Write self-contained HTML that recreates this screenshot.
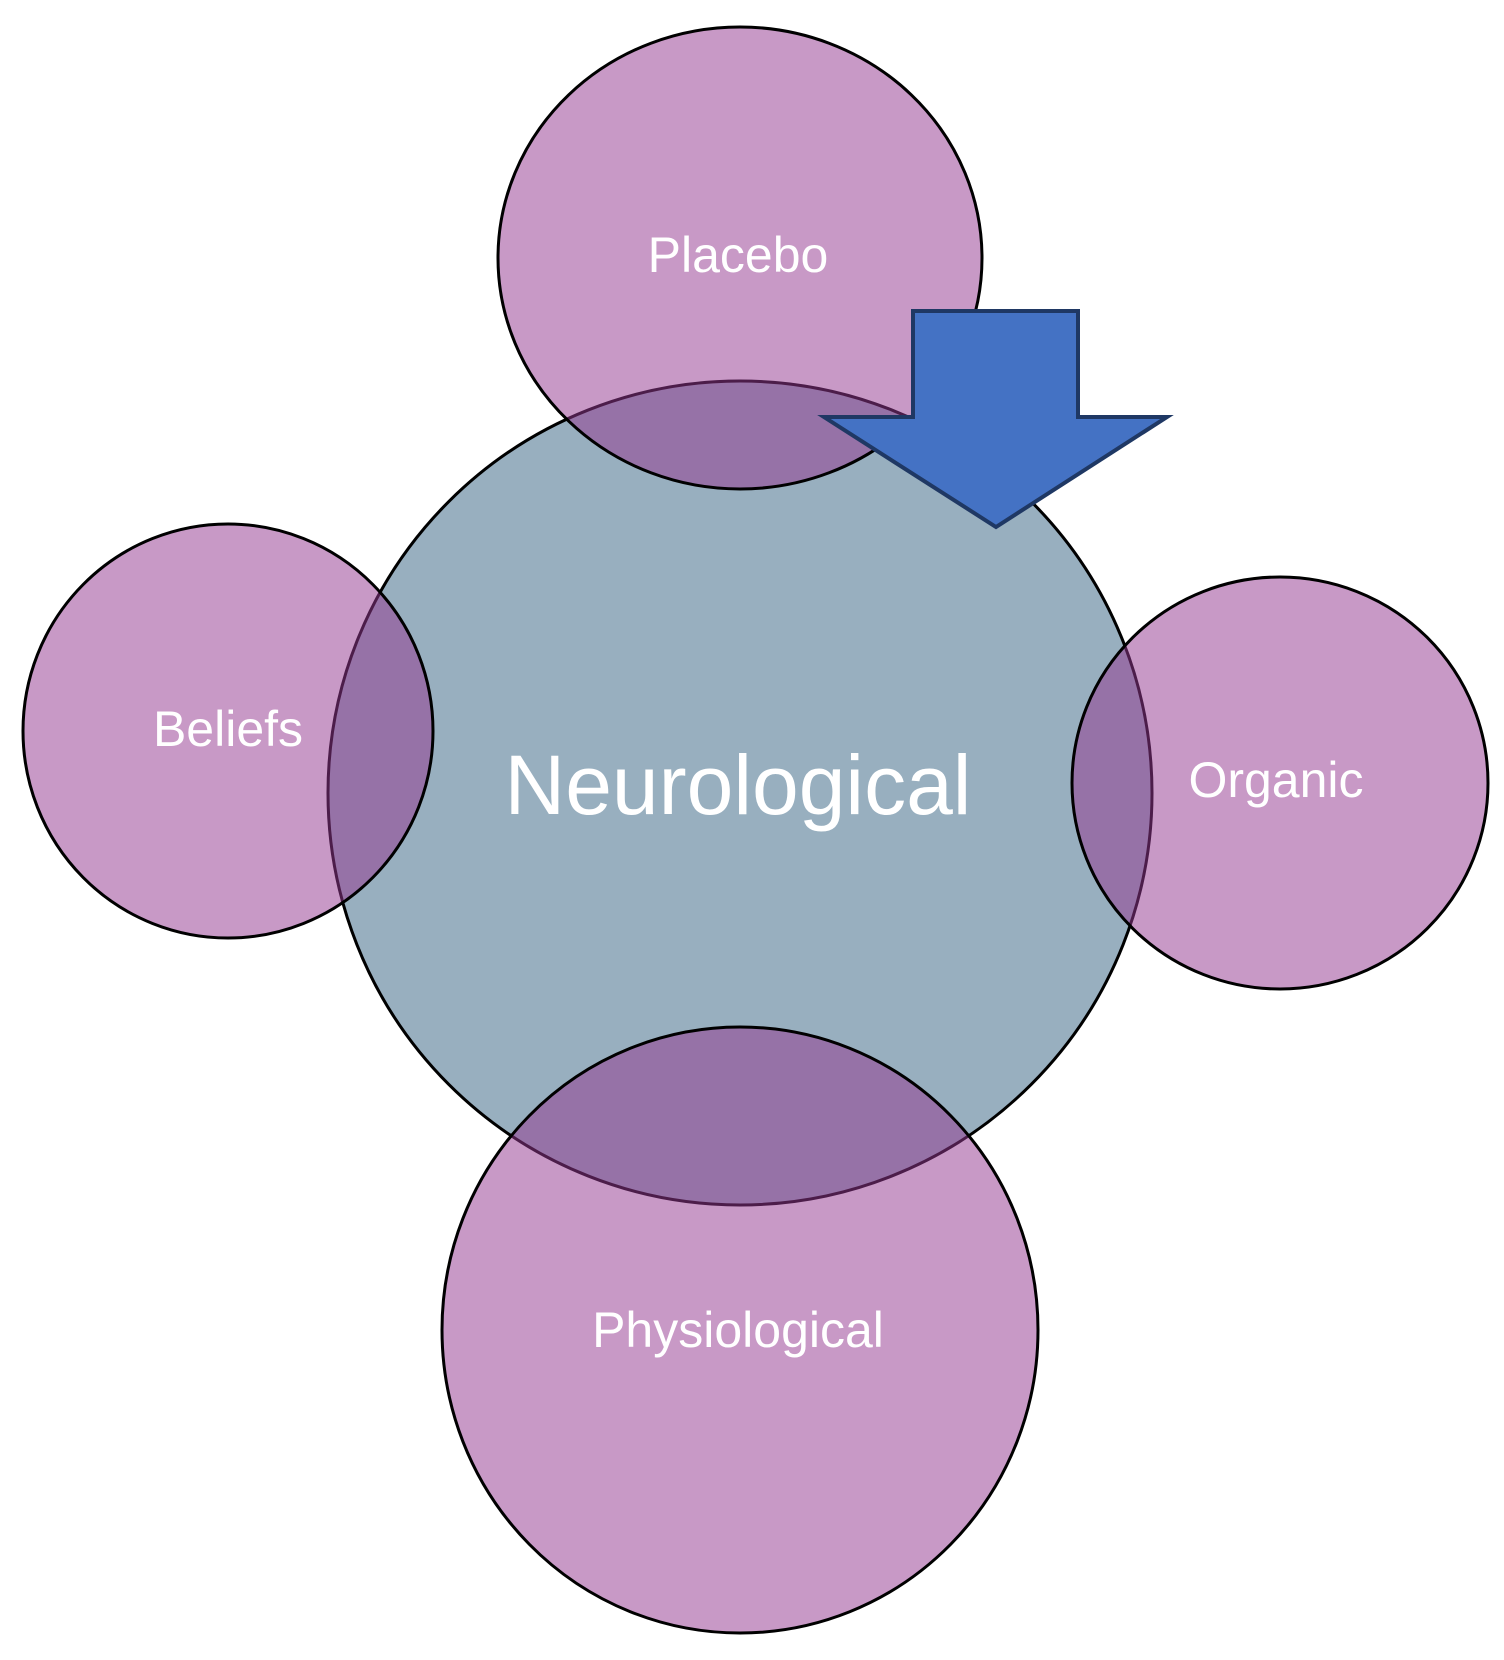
<!DOCTYPE html>
<html><head><style>html,body{margin:0;padding:0;background:#fff;}svg{display:block}</style></head>
<body>
<svg width="1504" height="1660" viewBox="0 0 1504 1660" xmlns="http://www.w3.org/2000/svg">
<g stroke="#000" stroke-width="3">
<ellipse cx="740" cy="793" rx="412" ry="412" fill="#98afbf"/>
<ellipse cx="740" cy="258" rx="242" ry="231" fill="rgba(148,57,144,0.515)"/>
<ellipse cx="228" cy="731" rx="205" ry="207" fill="rgba(148,57,144,0.515)"/>
<ellipse cx="1280" cy="783" rx="208" ry="206" fill="rgba(148,57,144,0.515)"/>
<ellipse cx="740" cy="1330" rx="298" ry="303" fill="rgba(148,57,144,0.515)"/>
</g>
<polygon points="913,311 1078,311 1078,417 1167,417 996,527 824,417 913,417" fill="#4472c4" stroke="#1f3864" stroke-width="4"/>
<g fill="#fff" font-family="Liberation Sans, sans-serif" text-anchor="middle">
<text x="738" y="272" font-size="50">Placebo</text>
<text x="738" y="814" font-size="84">Neurological</text>
<text x="228" y="746" font-size="50">Beliefs</text>
<text x="1276" y="797" font-size="50">Organic</text>
<text x="738" y="1347" font-size="50">Physiological</text>
</g>
</svg>
</body></html>
